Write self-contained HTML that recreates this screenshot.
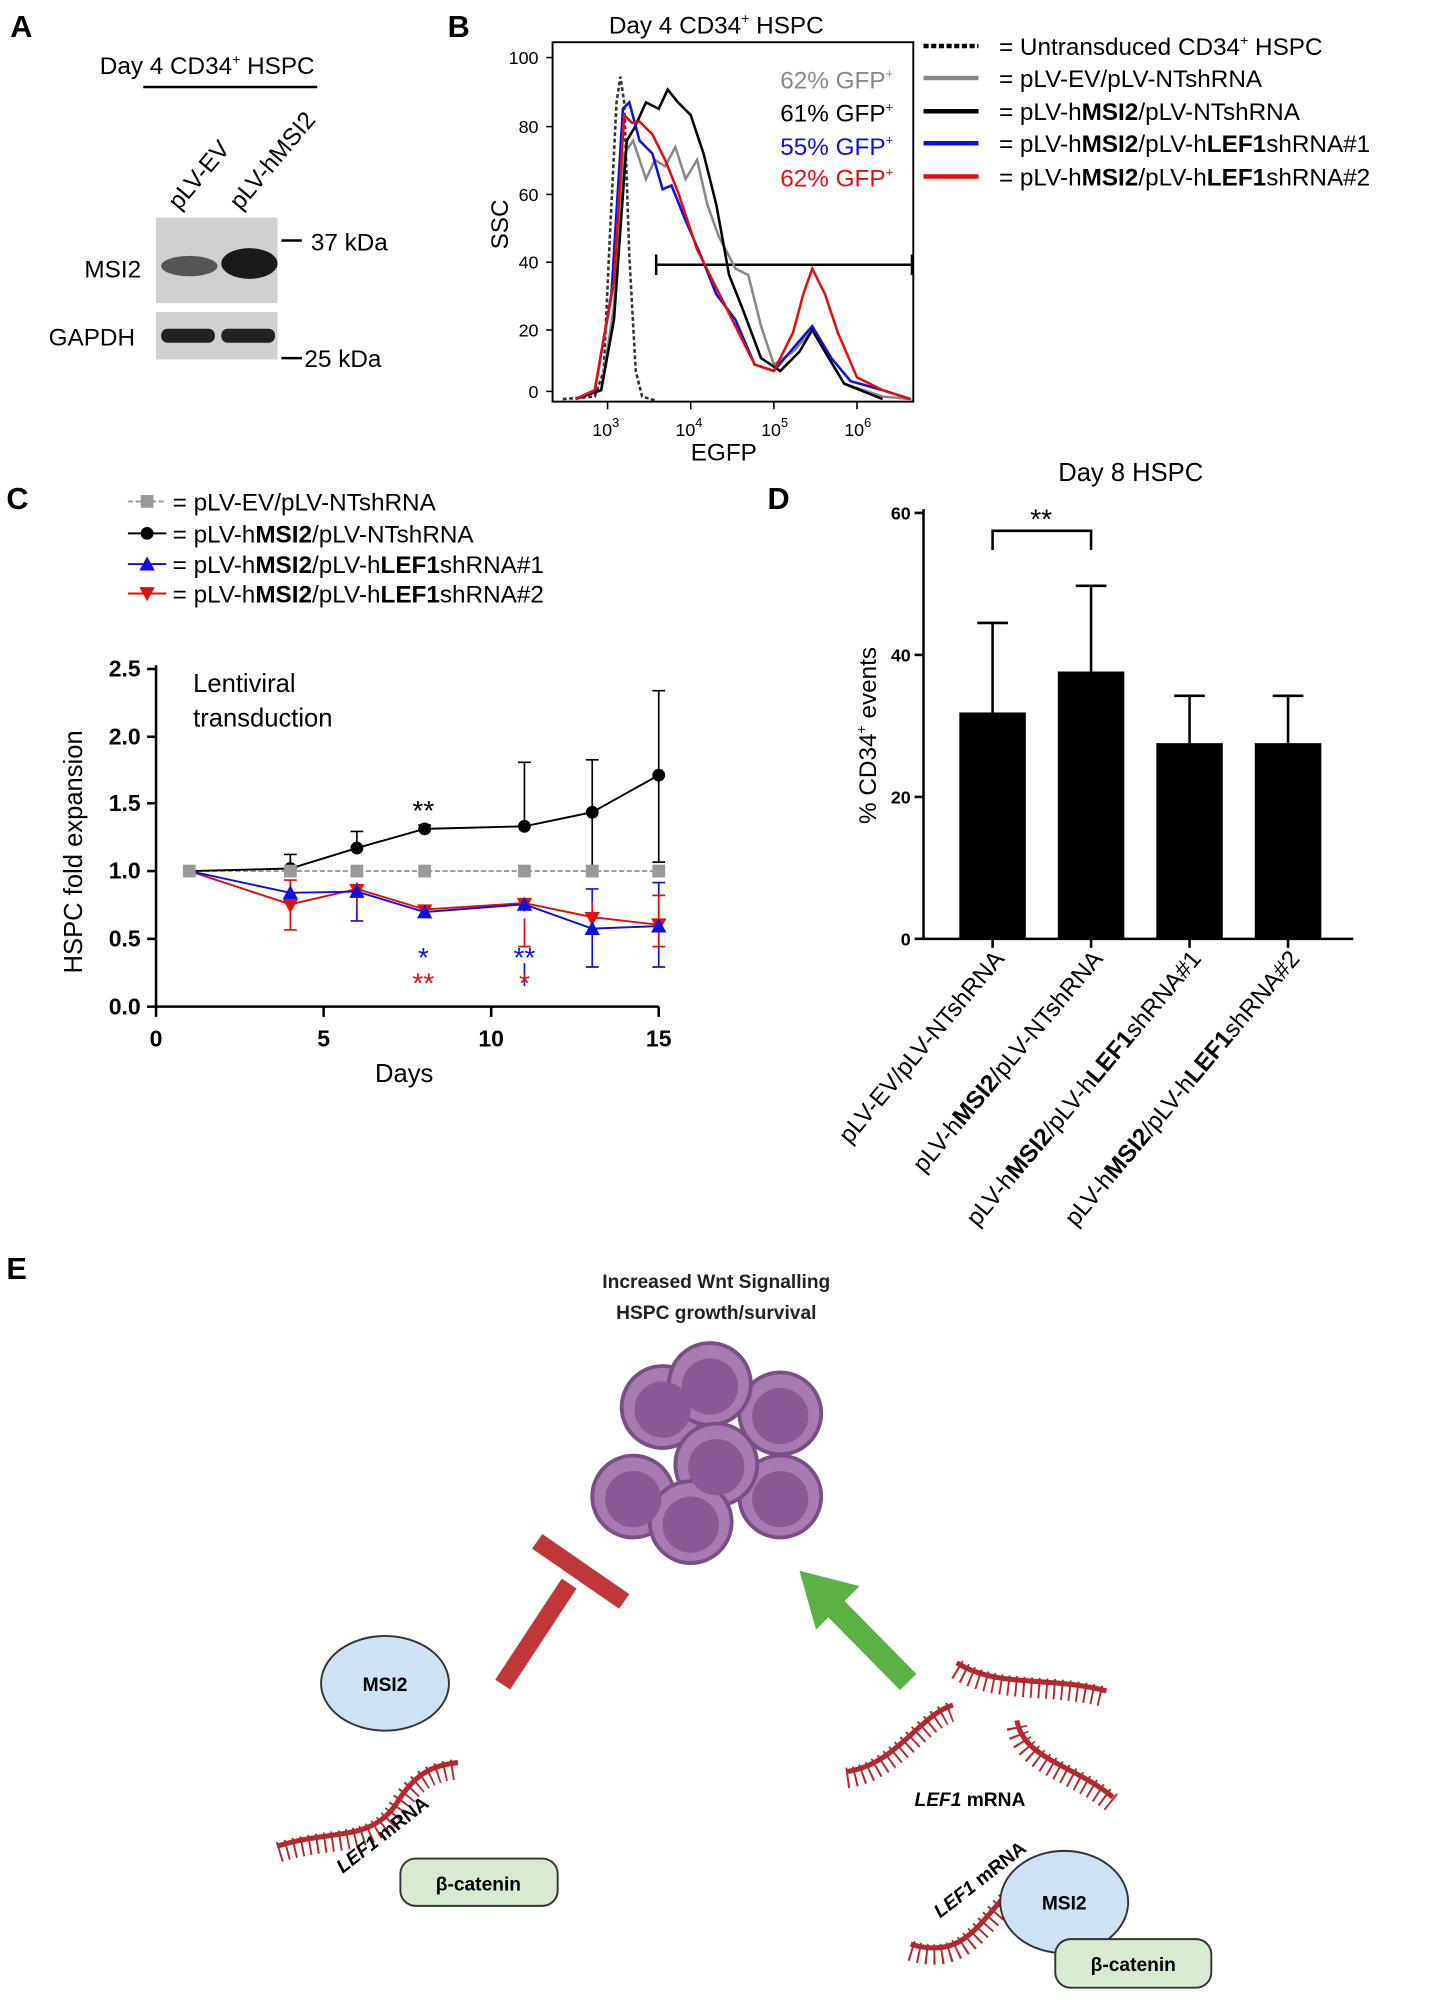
<!DOCTYPE html>
<html><head><meta charset="utf-8"><style>
html,body{margin:0;padding:0;background:#fff}
svg{display:block}
text{font-family:"Liberation Sans",Arial,sans-serif}
</style></head><body>
<svg width="1439" height="2000" viewBox="0 0 1125 1563.6" xmlns="http://www.w3.org/2000/svg">
<!-- Panel A -->
<text x="8" y="29" font-size="24" font-weight="bold">A</text>
<text x="78" y="58" font-size="19">Day 4 CD34<tspan font-size="11" dy="-8">+</tspan><tspan dy="8"> HSPC</tspan></text>
<line x1="112" y1="68" x2="248" y2="68" stroke="#000" stroke-width="2"/>
<text transform="translate(140,165) rotate(-50)" font-size="19">pLV-EV</text>
<text transform="translate(188,165) rotate(-50)" font-size="19">pLV-hMSI2</text>
<rect x="122" y="170" width="95" height="67" fill="#d0d0d0"/>
<ellipse cx="148" cy="208" rx="22" ry="8" fill="#555"/>
<ellipse cx="195" cy="206" rx="22" ry="12" fill="#1a1a1a"/>
<rect x="122" y="244" width="95" height="37" fill="#d0d0d0"/>
<rect x="126" y="257" width="42" height="11" rx="5" fill="#222"/>
<rect x="173" y="257" width="42" height="11" rx="5" fill="#222"/>
<text x="66" y="217" font-size="19">MSI2</text>
<text x="38" y="270" font-size="19">GAPDH</text>
<line x1="220" y1="188" x2="236" y2="188" stroke="#000" stroke-width="2"/>
<text x="243" y="196" font-size="19">37 kDa</text>
<line x1="220" y1="280" x2="236" y2="280" stroke="#000" stroke-width="2"/>
<text x="238" y="287" font-size="19">25 kDa</text>

<!-- Panel B -->
<text x="350" y="29" font-size="24" font-weight="bold">B</text>
<text x="476" y="26" font-size="19">Day 4 CD34<tspan font-size="11" dy="-8">+</tspan><tspan dy="8"> HSPC</tspan></text>
<rect x="432" y="33" width="282" height="281" fill="none" stroke="#000" stroke-width="1.5"/>
<g font-size="14" text-anchor="end">
<text x="421" y="50">100</text><text x="421" y="104">80</text><text x="421" y="157">60</text>
<text x="421" y="210">40</text><text x="421" y="263">20</text><text x="421" y="311">0</text>
</g>
<g stroke="#000" stroke-width="1.2">
<line x1="427" y1="45" x2="432" y2="45"/><line x1="427" y1="99" x2="432" y2="99"/><line x1="427" y1="152" x2="432" y2="152"/>
<line x1="427" y1="205" x2="432" y2="205"/><line x1="427" y1="258" x2="432" y2="258"/><line x1="427" y1="306" x2="432" y2="306"/>
<line x1="475" y1="314" x2="475" y2="320"/><line x1="540" y1="314" x2="540" y2="320"/><line x1="605" y1="314" x2="605" y2="320"/><line x1="670" y1="314" x2="670" y2="320"/>
</g>
<g font-size="14"><text x="463" y="341">10<tspan font-size="10" dy="-7">3</tspan></text>
<text x="528" y="341">10<tspan font-size="10" dy="-7">4</tspan></text>
<text x="595" y="341">10<tspan font-size="10" dy="-7">5</tspan></text>
<text x="660" y="341">10<tspan font-size="10" dy="-7">6</tspan></text></g>
<text x="540" y="360" font-size="19">EGFP</text>
<text transform="translate(397,195) rotate(-90)" font-size="19">SSC</text>
<text x="610" y="69" font-size="19" fill="#888">62% GFP<tspan font-size="10" dy="-8">+</tspan></text>
<text x="610" y="95" font-size="19">61% GFP<tspan font-size="10" dy="-8">+</tspan></text>
<text x="610" y="121" font-size="19" fill="#1010e0">55% GFP<tspan font-size="10" dy="-8">+</tspan></text>
<text x="610" y="146" font-size="19" fill="#e01010">62% GFP<tspan font-size="10" dy="-8">+</tspan></text>
<line x1="513" y1="207" x2="714" y2="207" stroke="#000" stroke-width="2"/>
<line x1="513" y1="199" x2="513" y2="215" stroke="#000" stroke-width="2"/>
<line x1="713" y1="199" x2="713" y2="215" stroke="#000" stroke-width="2"/>
<g fill="none" stroke-width="2">
<path d="M440,312 L465,310 L472,290 L477,180 L482,80 L485,60 L488,80 L492,200 L497,290 L502,310 L512,313" stroke="#333" stroke-dasharray="3,2"/>
<path d="M450,312 L470,305 L480,240 L488,120 L495,110 L505,140 L512,125 L520,130 L528,115 L536,140 L545,125 L553,160 L562,185 L575,210 L585,215 L595,255 L605,285 L620,275 L635,258 L645,275 L660,300 L690,310 L712,312" stroke="#888"/>
<path d="M450,312 L470,305 L480,250 L490,110 L496,100 L505,80 L515,85 L522,70 L530,80 L540,90 L550,120 L560,160 L570,215 L580,240 L595,280 L610,290 L625,275 L635,258 L645,275 L660,300 L690,312" stroke="#000"/>
<path d="M450,312 L465,305 L478,230 L487,85 L492,80 L500,110 L510,120 L518,148 L525,145 L535,170 L548,200 L560,230 L575,250 L590,285 L605,290 L622,270 L635,255 L650,280 L665,298 L690,305 L712,312" stroke="#1010e0"/>
<path d="M450,312 L465,305 L480,220 L488,90 L494,96 L500,95 L510,105 L520,125 L530,150 L545,195 L560,225 L575,255 L590,285 L605,290 L620,260 L628,230 L635,210 L645,230 L655,260 L670,295 L690,305 L712,312" stroke="#e01010"/>
</g>
<g stroke-width="3.5">
<line x1="722" y1="36" x2="765" y2="36" stroke="#000" stroke-dasharray="4,2"/>
<line x1="722" y1="61" x2="765" y2="61" stroke="#888"/>
<line x1="722" y1="87" x2="765" y2="87" stroke="#000"/>
<line x1="722" y1="112" x2="765" y2="112" stroke="#1010e0"/>
<line x1="722" y1="138" x2="765" y2="138" stroke="#e01010"/>
</g>
<g font-size="19">
<text x="781" y="43">= Untransduced CD34<tspan font-size="11" dy="-8">+</tspan><tspan dy="8"> HSPC</tspan></text>
<text x="781" y="68">= pLV-EV/pLV-NTshRNA</text>
<text x="781" y="94">= pLV-h<tspan font-weight="bold">MSI2</tspan>/pLV-NTshRNA</text>
<text x="781" y="119">= pLV-h<tspan font-weight="bold">MSI2</tspan>/pLV-h<tspan font-weight="bold">LEF1</tspan>shRNA#1</text>
<text x="781" y="145">= pLV-h<tspan font-weight="bold">MSI2</tspan>/pLV-h<tspan font-weight="bold">LEF1</tspan>shRNA#2</text>
</g>

<!-- Panel C -->
<text x="5" y="398" font-size="24" font-weight="bold">C</text>
<g font-size="19">
<line x1="100" y1="392" x2="130" y2="392" stroke="#999" stroke-dasharray="4,2" stroke-width="1.5"/><rect x="110" y="387" width="10" height="10" fill="#999"/>
<text x="135" y="399">= pLV-EV/pLV-NTshRNA</text>
<line x1="100" y1="417" x2="130" y2="417" stroke="#000" stroke-width="1.5"/><circle cx="115" cy="417" r="5"/>
<text x="135" y="424">= pLV-h<tspan font-weight="bold">MSI2</tspan>/pLV-NTshRNA</text>
<line x1="100" y1="441" x2="130" y2="441" stroke="#1010e0" stroke-width="1.5"/><path d="M115,435 L121,446 L109,446Z" fill="#1010e0"/>
<text x="135" y="448">= pLV-h<tspan font-weight="bold">MSI2</tspan>/pLV-h<tspan font-weight="bold">LEF1</tspan>shRNA#1</text>
<line x1="100" y1="464" x2="130" y2="464" stroke="#e01010" stroke-width="1.5"/><path d="M115,470 L121,459 L109,459Z" fill="#e01010"/>
<text x="135" y="471">= pLV-h<tspan font-weight="bold">MSI2</tspan>/pLV-h<tspan font-weight="bold">LEF1</tspan>shRNA#2</text>
</g>
<g stroke="#000" stroke-width="2">
<line x1="122" y1="520" x2="122" y2="787"/><line x1="122" y1="787" x2="515" y2="787"/>
<line x1="115" y1="523" x2="122" y2="523"/><line x1="115" y1="576" x2="122" y2="576"/><line x1="115" y1="628" x2="122" y2="628"/>
<line x1="115" y1="681" x2="122" y2="681"/><line x1="115" y1="734" x2="122" y2="734"/><line x1="115" y1="787" x2="122" y2="787"/>
<line x1="122" y1="787" x2="122" y2="795"/><line x1="253" y1="787" x2="253" y2="795"/><line x1="384" y1="787" x2="384" y2="795"/><line x1="515" y1="787" x2="515" y2="795"/>
</g>
<g font-size="18" font-weight="bold" text-anchor="end">
<text x="110" y="529">2.5</text><text x="110" y="582">2.0</text><text x="110" y="634">1.5</text>
<text x="110" y="687">1.0</text><text x="110" y="740">0.5</text><text x="110" y="793">0.0</text>
</g>
<g font-size="18" font-weight="bold" text-anchor="middle">
<text x="122" y="818">0</text><text x="253" y="818">5</text><text x="384" y="818">10</text><text x="515" y="818">15</text>
</g>
<text x="316" y="846" font-size="20" text-anchor="middle">Days</text>
<text transform="translate(64,666) rotate(-90)" font-size="20" text-anchor="middle">HSPC fold expansion</text>
<text x="151" y="541" font-size="20">Lentiviral</text>
<text x="151" y="568" font-size="20">transduction</text>
<polyline points="148,681 227,681 279,681 332,681 410,681 463,681 515,681" fill="none" stroke="#999" stroke-dasharray="4,2" stroke-width="1.5"/>
<g stroke="#000" stroke-width="1.3" fill="none">
<path d="M227,668 V676 M222,668 H232 M279,650 V664 M274,650 H284 M332,645 V650 M327,645 H337 M332,650 V644 M410,596 V646 M405,596 H415 M463,594 V656 M458,594 H468 M515,540 V606 M510,540 H520 M515,606 V674 M510,674 H520 M463,656 V681"/>
</g>
<polyline points="148,681 227,679 279,663 332,648 410,646 463,635 515,606" fill="none" stroke="#000" stroke-width="1.5"/>
<g fill="#000"><circle cx="227" cy="679" r="5"/><circle cx="279" cy="663" r="5"/><circle cx="332" cy="648" r="5"/><circle cx="410" cy="646" r="5"/><circle cx="463" cy="635" r="5"/><circle cx="515" cy="606" r="5"/></g>
<g stroke="#1010e0" stroke-width="1.3" fill="none">
<path d="M227,690 V701 M279,690 V720 M274,720 H284 M410,753 V771 M463,695 V756 M458,695 H468 M463,756 V725 M458,756 H468 M515,690 V756 M510,690 H520 M510,756 H520"/>
</g>
<g stroke="#e01010" stroke-width="1.3" fill="none">
<path d="M227,707 V727 M222,727 H232 M227,707 V688 M222,688 H232 M279,708 V696 M274,696 H284 M410,740 V718 M405,740 H415 M463,723 V705 M515,700 V740 M510,740 H520 M510,700 H520"/>
</g>
<polyline points="148,681 227,707 279,695 332,711 410,706 463,717 515,723" fill="none" stroke="#e01010" stroke-width="1.5"/>
<polyline points="148,681 227,698 279,697 332,713 410,707 463,726 515,724" fill="none" stroke="#1010e0" stroke-width="1.5"/>
<g fill="#e01010"><path d="M227,714 L233,703 L221,703Z"/><path d="M279,702 L285,691 L273,691Z"/><path d="M332,718 L338,707 L326,707Z"/><path d="M410,713 L416,702 L404,702Z"/><path d="M463,724 L469,713 L457,713Z"/><path d="M515,729 L521,718 L509,718Z"/></g>
<g fill="#1010e0"><path d="M227,692 L233,703 L221,703Z"/><path d="M279,691 L285,702 L273,702Z"/><path d="M332,707 L338,718 L326,718Z"/><path d="M410,701 L416,712 L404,712Z"/><path d="M463,720 L469,731 L457,731Z"/><path d="M515,718 L521,729 L509,729Z"/></g>
<g fill="#999"><rect x="143" y="676" width="10" height="10"/><rect x="222" y="676" width="10" height="10"/><rect x="274" y="676" width="10" height="10"/><rect x="327" y="676" width="10" height="10"/><rect x="405" y="676" width="10" height="10"/><rect x="458" y="676" width="10" height="10"/><rect x="510" y="676" width="10" height="10"/></g>
<g font-size="22" text-anchor="middle">
<text x="331" y="641">**</text>
<text x="331" y="756" fill="#1010e0">*</text><text x="331" y="776" fill="#e01010">**</text>
<text x="410" y="756" fill="#1010e0">**</text><text x="410" y="776" fill="#e01010">*</text>
</g>

<!-- Panel D -->
<text x="600" y="398" font-size="24" font-weight="bold">D</text>
<text x="884" y="376" font-size="20" text-anchor="middle">Day 8 HSPC</text>
<g stroke="#000" stroke-width="2">
<line x1="722" y1="398" x2="722" y2="734"/><line x1="722" y1="734" x2="1058" y2="734"/>
<line x1="715" y1="401" x2="722" y2="401"/><line x1="715" y1="512" x2="722" y2="512"/><line x1="715" y1="623" x2="722" y2="623"/><line x1="715" y1="734" x2="722" y2="734"/>
<line x1="776" y1="734" x2="776" y2="741"/><line x1="853" y1="734" x2="853" y2="741"/><line x1="930" y1="734" x2="930" y2="741"/><line x1="1007" y1="734" x2="1007" y2="741"/>
</g>
<g font-size="14" font-weight="bold" text-anchor="end">
<text x="712" y="406">60</text><text x="712" y="517">40</text><text x="712" y="628">20</text><text x="712" y="739">0</text>
</g>
<text transform="translate(685,575) rotate(-90)" font-size="19" text-anchor="middle">% CD34<tspan font-size="11" dy="-8">+</tspan><tspan dy="8"> events</tspan></text>
<g fill="#000"><rect x="750" y="557" width="52" height="177"/><rect x="827" y="525" width="52" height="209"/><rect x="904" y="581" width="52" height="153"/><rect x="981" y="581" width="52" height="153"/></g>
<g stroke="#000" stroke-width="2" fill="none">
<path d="M776,557 V487 M764,487 H788 M853,525 V458 M841,458 H865 M930,581 V544 M918,544 H942 M1007,581 V544 M995,544 H1019"/>
<path d="M776,430 V415 H853 V430"/>
</g>
<text x="814" y="413" font-size="22" text-anchor="middle">**</text>
<g font-size="19">
<text transform="translate(786,750) rotate(-50)" text-anchor="end">pLV-EV/pLV-NTshRNA</text>
<text transform="translate(863,750) rotate(-50)" text-anchor="end">pLV-h<tspan font-weight="bold">MSI2</tspan>/pLV-NTshRNA</text>
<text transform="translate(940,750) rotate(-50)" text-anchor="end">pLV-h<tspan font-weight="bold">MSI2</tspan>/pLV-h<tspan font-weight="bold">LEF1</tspan>shRNA#1</text>
<text transform="translate(1017,750) rotate(-50)" text-anchor="end">pLV-h<tspan font-weight="bold">MSI2</tspan>/pLV-h<tspan font-weight="bold">LEF1</tspan>shRNA#2</text>
</g>

<!-- Panel E -->
<text x="5" y="1000" font-size="24" font-weight="bold">E</text>
<text x="560" y="1007" font-size="15" font-weight="bold" text-anchor="middle" fill="#222">Increased Wnt Signalling</text>
<text x="560" y="1031" font-size="15" font-weight="bold" text-anchor="middle" fill="#222">HSPC growth/survival</text>
<g stroke="#7a4f86" stroke-width="3" fill="#a57bb0">
<circle cx="518" cy="1100" r="32"/><circle cx="610" cy="1105" r="32"/><circle cx="555" cy="1082" r="32"/>
<circle cx="495" cy="1170" r="32"/><circle cx="610" cy="1170" r="32"/><circle cx="560" cy="1145" r="32"/><circle cx="540" cy="1190" r="32"/>
</g>
<g fill="#8a5a96">
<circle cx="518" cy="1102" r="22"/><circle cx="610" cy="1107" r="22"/><circle cx="555" cy="1084" r="22"/>
<circle cx="495" cy="1172" r="22"/><circle cx="610" cy="1172" r="22"/><circle cx="560" cy="1147" r="22"/><circle cx="540" cy="1192" r="22"/>
</g>
<line x1="393" y1="1317" x2="445" y2="1238" stroke="#c0373a" stroke-width="14"/>
<line x1="420" y1="1205" x2="488" y2="1252" stroke="#c0373a" stroke-width="14"/>
<line x1="710" y1="1315" x2="648" y2="1252" stroke="#5bb143" stroke-width="18"/>
<path d="M625,1228 L672,1240 L638,1274Z" fill="#5bb143"/>
<ellipse cx="301" cy="1316" rx="50" ry="37" fill="#cfe2f3" stroke="#333" stroke-width="1.5"/>
<text x="301" y="1322" font-size="15" font-weight="bold" text-anchor="middle">MSI2</text>
<g fill="none" stroke="#b22a2e">
<g stroke-width="4">
<path d="M218,1443 C260,1430 290,1440 310,1410 C325,1385 340,1380 358,1378"/>
<path d="M662,1385 C700,1380 720,1340 745,1333"/>
<path d="M748,1300 C780,1320 820,1310 865,1322"/>
<path d="M795,1345 C800,1375 840,1380 870,1405"/>
<path d="M712,1520 C760,1535 770,1490 800,1470 C830,1455 850,1460 858,1470"/>
</g>
<g stroke-width="16" stroke-dasharray="1.5,4.5" transform="translate(0,5)">
<path d="M218,1443 C260,1430 290,1440 310,1410 C325,1385 340,1380 358,1378"/>
<path d="M662,1385 C700,1380 720,1340 745,1333"/>
<path d="M748,1300 C780,1320 820,1310 865,1322"/>
<path d="M795,1345 C800,1375 840,1380 870,1405"/>
<path d="M712,1520 C760,1535 770,1490 800,1470 C830,1455 850,1460 858,1470"/>
</g>
</g>
<rect x="313" y="1453" width="123" height="37" rx="12" fill="#d9ead3" stroke="#333" stroke-width="1.5"/>
<text x="374" y="1478" font-size="15" font-weight="bold" text-anchor="middle">β-catenin</text>
<text transform="translate(268,1465) rotate(-38)" font-size="15" font-weight="bold"><tspan font-style="italic">LEF1</tspan> mRNA</text>
<text x="715" y="1412" font-size="15" font-weight="bold"><tspan font-style="italic">LEF1</tspan> mRNA</text>
<ellipse cx="832" cy="1487" rx="50" ry="40" fill="#cfe2f3" stroke="#333" stroke-width="1.5"/>
<text x="832" y="1493" font-size="15" font-weight="bold" text-anchor="middle">MSI2</text>
<rect x="825" y="1516" width="122" height="38" rx="12" fill="#d9ead3" stroke="#333" stroke-width="1.5"/>
<text x="886" y="1541" font-size="15" font-weight="bold" text-anchor="middle">β-catenin</text>
<text transform="translate(735,1500) rotate(-38)" font-size="15" font-weight="bold"><tspan font-style="italic">LEF1</tspan> mRNA</text>
</svg>
</body></html>
